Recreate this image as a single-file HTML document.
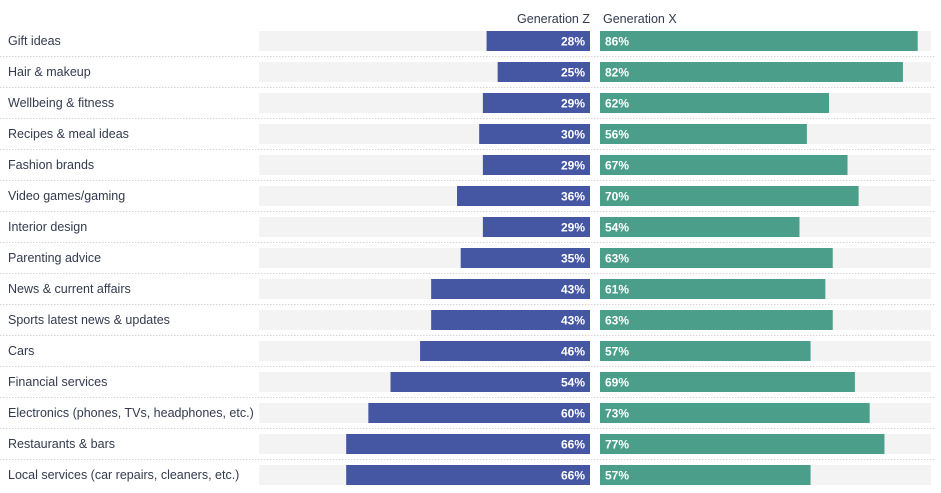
<!DOCTYPE html>
<html><head><meta charset="utf-8"><style>
body{margin:0;background:#fff;font-family:"Liberation Sans",sans-serif;}
svg{display:block}
</style></head><body>
<svg id="chart" width="941" height="493">
<text x="590" y="23" text-anchor="end" font-size="12.5" fill="#333a4d">Generation Z</text>
<text x="603" y="23" font-size="12.5" fill="#333a4d">Generation X</text>
</svg>
<script>
const categories=["Gift ideas","Hair & makeup","Wellbeing & fitness","Recipes & meal ideas","Fashion brands","Video games/gaming","Interior design","Parenting advice","News & current affairs","Sports latest news & updates","Cars","Financial services","Electronics (phones, TVs, headphones, etc.)","Restaurants & bars","Local services (car repairs, cleaners, etc.)"];
const genZ=[28,25,29,30,29,36,29,35,43,43,46,54,60,66,66];
const genX=[86,82,62,56,67,70,54,63,61,63,57,69,73,77,57];
const maxVal=89.6;
const svg=document.getElementById('chart');
const NS='http://www.w3.org/2000/svg';
const trackW=331, zEnd=590, xStart=600, top0=31, step=31, bh=20;
function sx(v){return v/maxVal*trackW;}
function yAt(i){return top0+i*step;}
function mk(tag,attrs){const e=document.createElementNS(NS,tag);for(const k in attrs)e.setAttribute(k,attrs[k]);svg.appendChild(e);return e;}
categories.forEach((c,i)=>{
  const y=yAt(i);
  let t=mk('text',{x:8,y:y+14,'font-size':12.5,fill:'#333a4d'});t.textContent=c;
  
  
  let tz=mk('rect',{x:zEnd-trackW,y:y,width:trackW,height:bh,fill:'#f3f3f3'});
  
  
  let tx=mk('rect',{x:xStart,y:y,width:trackW,height:bh,fill:'#f3f3f3'});
  
  
  const wz=sx(genZ[i]);
  let bz=mk('rect',{x:zEnd-wz,y:y,width:wz,height:bh,fill:'#4556a3'});
  
  
  let lz=mk('text',{x:zEnd-5,y:y+14.5,'text-anchor':'end','font-size':12,'font-weight':'bold',fill:'#fff'});lz.textContent=genZ[i]+'%';
  
  
  const wx=sx(genX[i]);
  let bx=mk('rect',{x:xStart,y:y,width:wx,height:bh,fill:'#4a9e8a'});
  
  
  let lx=mk('text',{x:xStart+5,y:y+14.5,'font-size':12,'font-weight':'bold',fill:'#fff'});lx.textContent=genX[i]+'%';
  
  
  if(i<categories.length-1){
    let s=mk('line',{x1:0,x2:936,y1:y+bh+5.5,y2:y+bh+5.5,stroke:'#d4d4d4','stroke-dasharray':'1.5 1.5'});
    
    
  }
});
</script>
</body></html>
